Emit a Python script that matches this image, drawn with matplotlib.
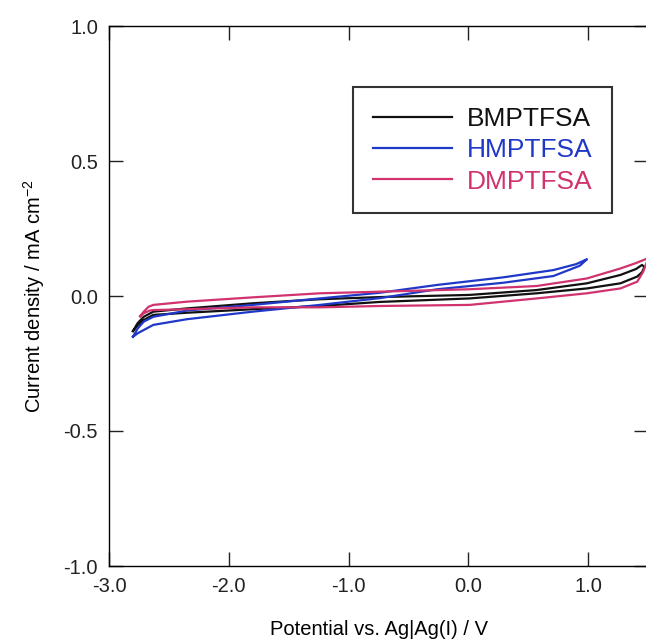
#!/usr/bin/env python3
"""Cyclic voltammograms of three pyrrolidinium TFSA ionic liquids."""
import numpy as np
import matplotlib
matplotlib.use("Agg")
import matplotlib.pyplot as plt

plt.rcParams["font.family"] = ["Liberation Sans", "DejaVu Sans"]
plt.rcParams["axes.unicode_minus"] = False
plt.rcParams["mathtext.default"] = "regular"

# closed loops: forward (upper) branch left->right, then return (lower) branch right->left
bm_x = [-2.80, -2.76, -2.71, -2.63, -2.35, -1.80, -1.24, -0.74, 0.01, 0.57, 0.99, 1.27, 1.40, 1.45, 1.47,
        1.45, 1.41, 1.27, 0.99, 0.57, 0.01, -0.74, -1.24, -1.80, -2.35, -2.63, -2.71, -2.76, -2.80]
bm_y = [-0.130, -0.100, -0.077, -0.058, -0.046, -0.027, -0.012, -0.004, 0.004, 0.022, 0.047, 0.078, 0.100, 0.115, 0.108,
        0.088, 0.072, 0.047, 0.028, 0.010, -0.009, -0.022, -0.037, -0.049, -0.062, -0.070, -0.089, -0.108, -0.130]

hm_x = [-2.80, -2.76, -2.71, -2.63, -2.35, -1.80, -1.24, -0.74, -0.26, 0.29, 0.71, 0.90, 0.99,
        0.97, 0.93, 0.71, 0.29, -0.26, -0.74, -1.24, -1.80, -2.35, -2.63, -2.71, -2.76, -2.80]
hm_y = [-0.151, -0.120, -0.095, -0.077, -0.054, -0.033, -0.009, 0.012, 0.041, 0.069, 0.096, 0.118, 0.136,
        0.128, 0.112, 0.074, 0.049, 0.025, -0.008, -0.033, -0.058, -0.086, -0.107, -0.126, -0.138, -0.151]

dm_x = [-2.74, -2.71, -2.67, -2.63, -2.35, -1.80, -1.24, -0.74, 0.01, 0.57, 0.99, 1.27, 1.40, 1.50,
        1.49, 1.46, 1.41, 1.27, 0.99, 0.57, 0.15, 0.01, -0.74, -1.24, -1.80, -2.35, -2.63, -2.66, -2.71, -2.74]
dm_y = [-0.075, -0.058, -0.040, -0.033, -0.021, -0.005, 0.010, 0.016, 0.025, 0.037, 0.065, 0.102, 0.122, 0.140,
        0.125, 0.090, 0.053, 0.028, 0.010, -0.009, -0.027, -0.033, -0.037, -0.042, -0.042, -0.049, -0.052, -0.054, -0.064, -0.075]

series = [
    ("BMPTFSA", bm_x, bm_y, "#111111"),
    ("HMPTFSA", hm_x, hm_y, "#2038c8"),
    ("DMPTFSA", dm_x, dm_y, "#d0336e"),
]

fig = plt.figure(figsize=(6.46, 6.41), dpi=100)
ax = fig.add_axes([109 / 646, 75 / 641, 539 / 646, 540 / 641])

for name, x, y, c in series:
    ax.plot(x, y, color=c, lw=1.6, label=name)

ax.set_xlim(-3.0, 1.5)
ax.set_ylim(-1.0, 1.0)
ax.set_xticks([-3, -2, -1, 0, 1])
ax.set_yticks([-1.0, -0.5, 0.0, 0.5, 1.0])
ax.xaxis.set_major_formatter(matplotlib.ticker.FormatStrFormatter("%.1f"))
ax.yaxis.set_major_formatter(matplotlib.ticker.FormatStrFormatter("%.1f"))
ax.tick_params(direction="in", length=10, width=1, labelsize=14.5, pad=8,
               top=True, right=True, colors="#222222")
for s in ax.spines.values():
    s.set_linewidth(1.0)

ax.set_xlabel("Potential vs. Ag|Ag(I) / V", fontsize=14.5, labelpad=17)
ax.set_ylabel("Current density / mA cm$^{\u22122}$", fontsize=14.5, labelpad=12)

leg = ax.legend(loc="upper right", bbox_to_anchor=(0.933, 0.887), fontsize=19,
                frameon=True, fancybox=False, handlelength=3.0, handletextpad=0.55,
                labelspacing=0.28, borderpad=0.75, borderaxespad=0)
leg.get_frame().set_edgecolor("black")
leg.get_frame().set_linewidth(1.5)
for txt, (_, _, _, c) in zip(leg.get_texts(), series):
    txt.set_color(c)

fig.savefig("out.png", dpi=100)
